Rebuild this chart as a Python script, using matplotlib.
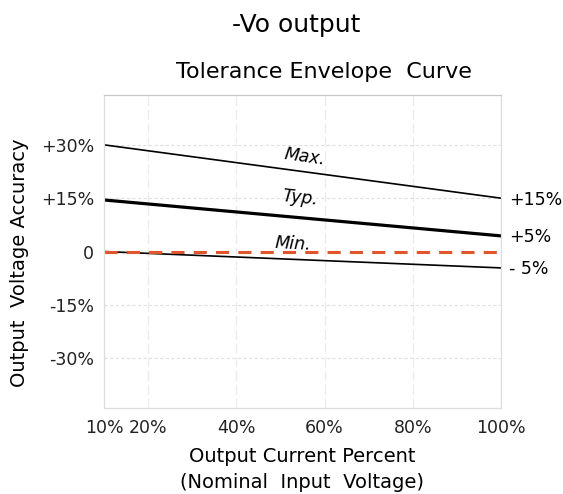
import matplotlib.pyplot as plt

# values
load_pct = [10, 100]
max_curve = [30, 15]
typ_curve = [14.5, 4.4]
min_curve = [0, -4.6]
nominal = [0, 0]

x_ticks = [10, 20, 40, 60, 80, 100]
x_tick_labels = ['10%', '20%', '40%', '60%', '80%', '100%']
y_ticks = [30, 15, 0, -15, -30]
y_tick_labels = ['+30%', '+15%', '0', '-15%', '-30%']
end_labels = ['+15%', '+5%', '- 5%']
end_values = [15, 4.4, -4.6]

plt.rcParams['font.family'] = ['DejaVu Sans']

fig = plt.figure(figsize=(5.63, 4.94), dpi=100)
ax = fig.add_axes([0.1847, 0.174, 0.7052, 0.6336])

ax.plot(load_pct, max_curve, color='black', lw=1.2)
ax.plot(load_pct, typ_curve, color='black', lw=2.3)
ax.plot(load_pct, min_curve, color='black', lw=1.2)
ax.plot(load_pct, nominal, color='#e2542a', lw=2.2, dashes=(4.3, 3))

ax.set_xlim(10, 100)
ax.set_ylim(-44, 44)
ax.set_xticks(x_ticks)
ax.set_xticklabels(x_tick_labels, fontsize=12.5, color='#222222')
ax.set_yticks(y_ticks)
ax.set_yticklabels(y_tick_labels, fontsize=12.5, color='#222222')
ax.tick_params(length=0)
ax.tick_params(axis='y', pad=7)
ax.tick_params(axis='x', pad=8)

for v in [20, 40, 60, 80]:
    ax.axvline(v, color='#ececec', lw=0.9, ls=(0, (8, 3)), zorder=0)
for v in [30, 15, -15, -30]:
    ax.axhline(v, color='#e0e0e0', lw=0.8, ls=(0, (3, 2)), zorder=0)

for s in ax.spines.values():
    s.set_color('#dddddd')
    s.set_linewidth(0.9)
ax.spines['top'].set_color('#c8c8c8')

ax.text(55.4, 26.7, 'Max.', fontsize=12.5, style='italic', rotation=-8, ha='center', va='center')
ax.text(54.4, 15.1, 'Typ.', fontsize=12.5, style='italic', rotation=-6, ha='center', va='center')
ax.text(52.9, 2.2, 'Min.', fontsize=12.5, style='italic', rotation=-3, ha='center', va='center')

for lab, v in zip(end_labels, end_values):
    ax.annotate(lab, xy=(100, v), xytext=(6, -1), textcoords='offset points',
                fontsize=12.5, ha='left', va='center', annotation_clip=False)

ax.set_ylabel('Output  Voltage Accuracy', fontsize=14)
ax.yaxis.set_label_coords(-0.19, 0.463)
ax.set_xlabel('Output Current Percent\n(Nominal  Input  Voltage)', fontsize=14,
              linespacing=1.45)
ax.xaxis.set_label_coords(0.5, -0.125)
ax.xaxis.label.set_va('top')

fig.text(0.526, 0.949, '-Vo output', fontsize=18, ha='center', va='center')
fig.text(0.575, 0.855, 'Tolerance Envelope  Curve', fontsize=16, ha='center', va='center')

fig.savefig('out.png', dpi=100)
